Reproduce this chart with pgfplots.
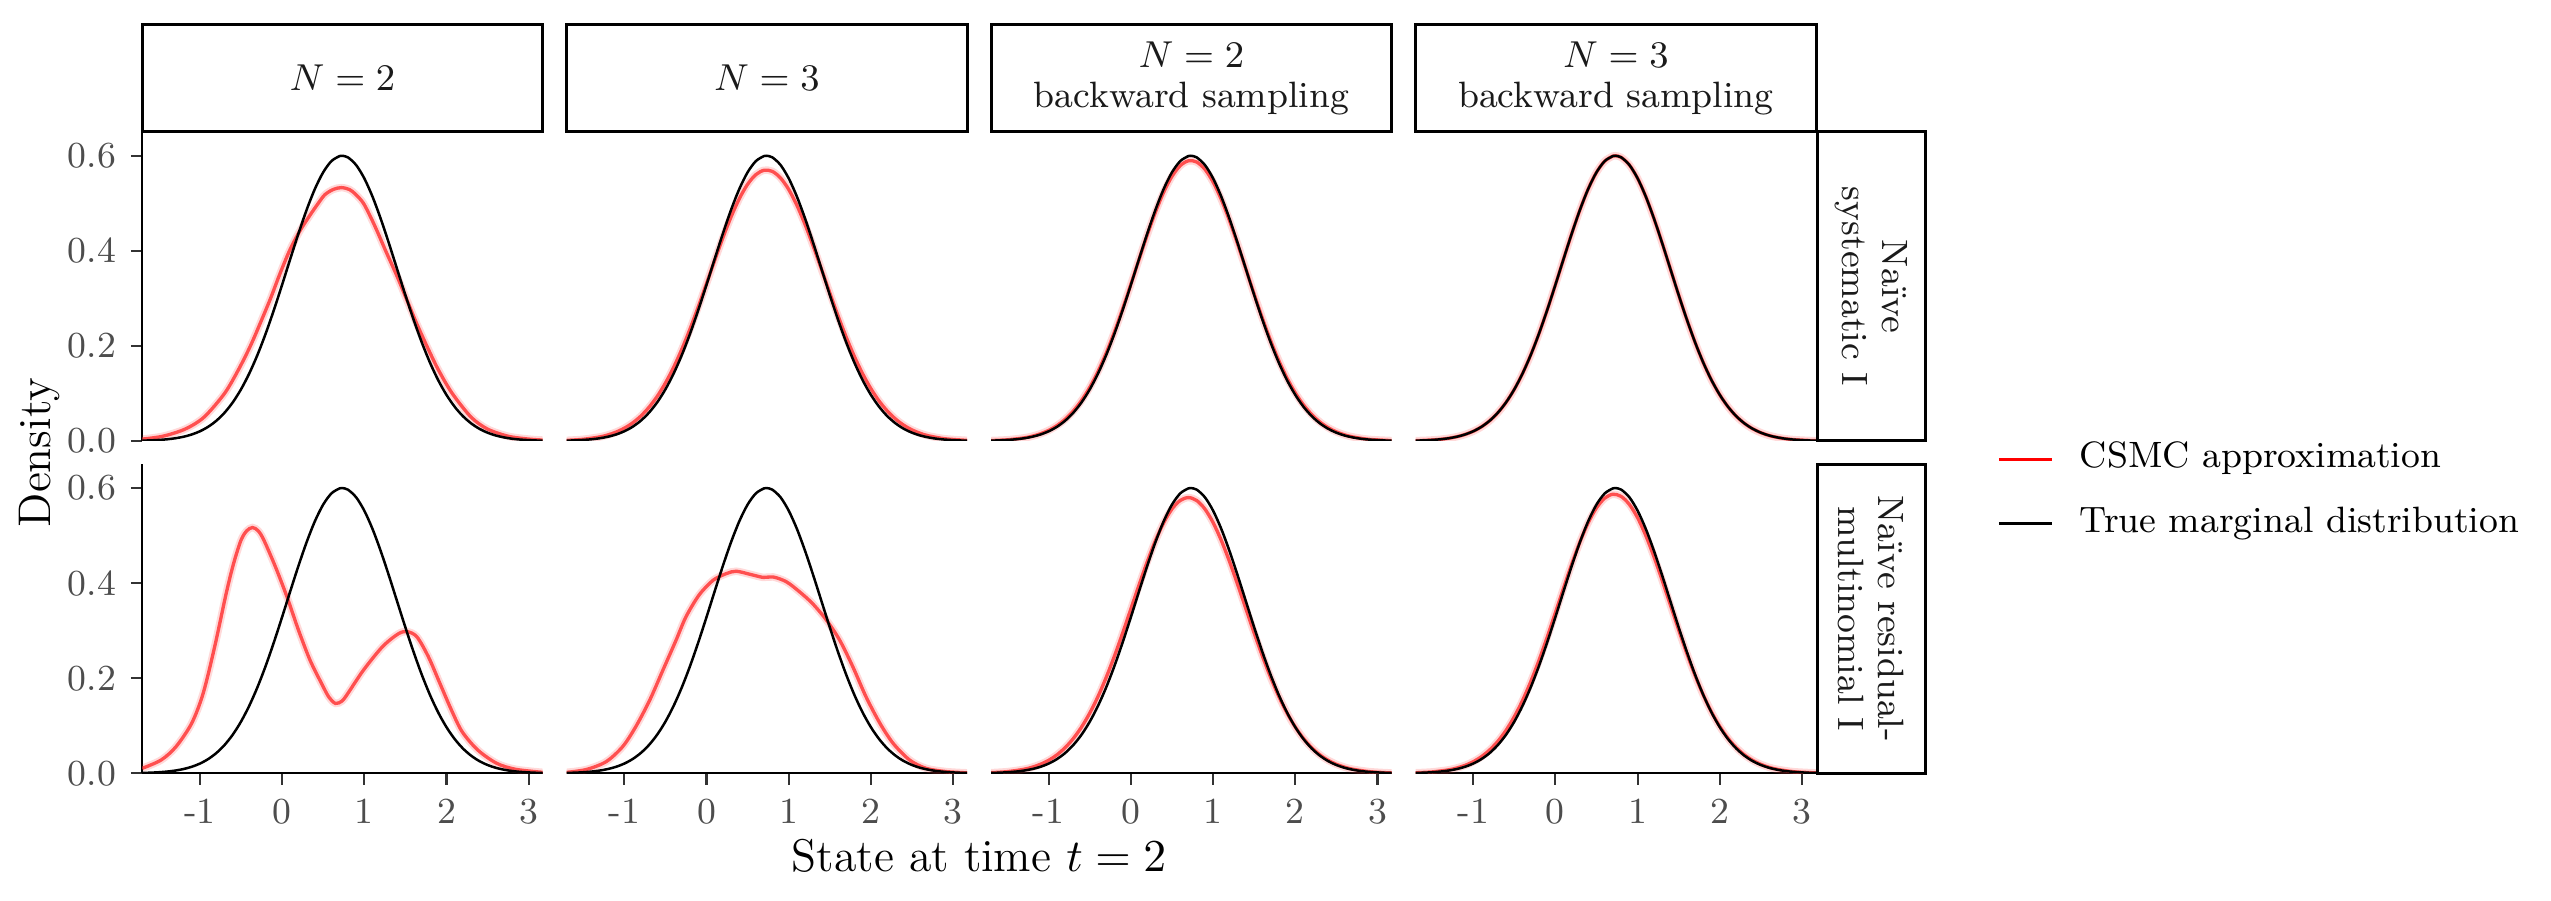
\documentclass[border=0pt]{standalone}
\usepackage{fontspec}
\usepackage{pgfplots}
\usepackage{pgfplotstable}
\pgfplotsset{compat=1.18}

\definecolor{csmc}{RGB}{255,64,64}
\definecolor{ticklab}{RGB}{77,77,77}
\definecolor{striptext}{RGB}{26,26,26}

% True marginal distribution (same in every panel)
\pgfplotstableread{
x y
-1.7 0.00076
-1.6 0.00129
-1.5 0.00217
-1.4 0.00355
-1.3 0.00569
-1.2 0.0089
-1.1 0.01361
-1.0 0.02035
-0.9 0.02976
-0.8 0.04252
-0.7 0.05944
-0.6 0.0812
-0.5 0.1085
-0.4 0.1417
-0.3 0.1808
-0.2 0.2256
-0.1 0.2753
0.0 0.3284
0.1 0.3831
0.2 0.4367
0.3 0.4868
0.4 0.5305
0.5 0.5652
0.6 0.5887
0.7 0.5994
0.73 0.6
0.8 0.5967
0.9 0.5807
1.0 0.5525
1.1 0.514
1.2 0.4674
1.3 0.4156
1.4 0.3612
1.5 0.3069
1.6 0.255
1.7 0.2071
1.8 0.1644
1.9 0.1276
2.0 0.0969
2.1 0.0719
2.2 0.0521
2.3 0.037
2.4 0.0256
2.5 0.0174
2.6 0.0115
2.7 0.0075
2.8 0.0047
2.9 0.0029
3.0 0.0018
3.1 0.001
3.17 0.0007
}\tblTrue

% CSMC, N=2, naive systematic
\pgfplotstableread{
x y
-1.70 0.004
-1.45 0.010
-1.18 0.025
-0.95 0.050
-0.70 0.100
-0.53 0.150
-0.385 0.200
-0.26 0.250
-0.14 0.300
-0.03 0.350
0.09 0.400
0.21 0.440
0.32 0.470
0.44 0.500
0.52 0.518
0.62 0.529
0.72 0.533
0.82 0.529
0.90 0.518
0.99 0.500
1.08 0.470
1.16 0.440
1.26 0.400
1.39 0.350
1.51 0.300
1.63 0.250
1.76 0.200
1.90 0.150
2.07 0.100
2.30 0.050
2.50 0.025
2.75 0.010
3.00 0.004
3.17 0.002
}\tblRA

% CSMC, N=3, naive systematic
\pgfplotstableread{
x y
-1.7 0.00137
-1.5 0.00356
-1.3 0.0085
-1.2 0.0127
-1.1 0.0187
-1.0 0.0269
-0.9 0.0378
-0.8 0.0522
-0.7 0.0707
-0.6 0.0937
-0.5 0.1217
-0.4 0.1548
-0.3 0.193
-0.2 0.2358
-0.1 0.2822
0.0 0.3309
0.1 0.3801
0.2 0.4279
0.3 0.472
0.4 0.51
0.5 0.54
0.6 0.5603
0.7 0.5695
0.8 0.5672
0.9 0.5534
1.0 0.5291
1.1 0.4957
1.2 0.4549
1.3 0.4091
1.4 0.3605
1.5 0.3112
1.6 0.2632
1.7 0.2181
1.8 0.1772
1.9 0.141
2.0 0.1099
2.1 0.0839
2.2 0.0628
2.3 0.0461
2.4 0.0331
2.5 0.0233
2.6 0.0161
2.7 0.0109
2.9 0.0047
3.17 0.0013
}\tblRB

% CSMC, N=2 backward, naive systematic
\pgfplotstableread{
x y
-1.7 0.00093
-1.5 0.00257
-1.3 0.00651
-1.2 0.01004
-1.1 0.01515
-1.0 0.02236
-0.9 0.0323
-0.8 0.0456
-0.7 0.0631
-0.6 0.0853
-0.5 0.1128
-0.4 0.146
-0.3 0.1849
-0.2 0.2292
-0.1 0.2778
0.0 0.3295
0.1 0.3823
0.2 0.434
0.3 0.482
0.4 0.5237
0.5 0.5568
0.6 0.5792
0.7 0.5894
0.8 0.5869
0.9 0.5717
1.0 0.5448
1.1 0.508
1.2 0.4634
1.3 0.4136
1.4 0.3611
1.5 0.3085
1.6 0.2579
1.7 0.2109
1.8 0.1687
1.9 0.132
2.0 0.1011
2.1 0.0758
2.2 0.0556
2.3 0.0398
2.4 0.028
2.5 0.0192
2.6 0.0129
2.7 0.0085
2.9 0.0034
3.17 0.0009
}\tblRC

% CSMC, N=2, naive residual-multinomial
\pgfplotstableread{
x y
-1.70 0.0105
-1.47 0.028
-1.29 0.056
-1.10 0.105
-0.96 0.168
-0.82 0.266
-0.68 0.378
-0.59 0.441
-0.50 0.490
-0.43 0.510
-0.36 0.517
-0.29 0.510
-0.22 0.490
-0.08 0.434
0.06 0.371
0.20 0.301
0.34 0.238
0.48 0.189
0.57 0.160
0.65 0.147
0.73 0.152
0.80 0.168
0.99 0.217
1.22 0.266
1.41 0.293
1.52 0.298
1.64 0.287
1.78 0.245
1.92 0.189
2.06 0.133
2.19 0.0875
2.38 0.049
2.61 0.021
2.84 0.0084
3.17 0.002
}\tblRE

% CSMC, N=3, naive residual-multinomial
\pgfplotstableread{
x y
-1.70 0.002
-1.46 0.008
-1.22 0.0245
-1.02 0.056
-0.86 0.098
-0.69 0.154
-0.53 0.217
-0.37 0.280
-0.25 0.329
-0.09 0.375
0.08 0.406
0.24 0.420
0.36 0.425
0.52 0.419
0.69 0.412
0.81 0.413
0.97 0.403
1.13 0.382
1.29 0.357
1.46 0.322
1.62 0.280
1.78 0.224
1.94 0.161
2.11 0.105
2.27 0.063
2.47 0.028
2.67 0.0105
2.92 0.0035
3.17 0.001
}\tblRF

% CSMC, N=2 backward, naive residual-multinomial
\pgfplotstableread{
x y
-1.7 0.0013
-1.5 0.0035
-1.3 0.0085
-1.2 0.0128
-1.1 0.0189
-1.0 0.0273
-0.9 0.0387
-0.8 0.0538
-0.7 0.0731
-0.6 0.0972
-0.5 0.1266
-0.4 0.1614
-0.3 0.2016
-0.2 0.2464
-0.1 0.2949
0.0 0.3456
0.1 0.3964
0.2 0.4453
0.3 0.4898
0.4 0.5274
0.5 0.556
0.6 0.5739
0.7 0.58
0.8 0.5739
0.9 0.556
1.0 0.5274
1.1 0.4898
1.2 0.4453
1.3 0.3964
1.4 0.3456
1.5 0.2949
1.6 0.2464
1.7 0.2016
1.8 0.1614
1.9 0.1266
2.0 0.0972
2.1 0.0731
2.2 0.0538
2.3 0.0387
2.4 0.0273
2.5 0.0189
2.6 0.0128
2.7 0.0085
2.9 0.0035
3.1 0.0013
3.17 0.0009
}\tblRG

% CSMC, N=3 backward, naive residual-multinomial
\pgfplotstableread{
x y
-1.7 0.0011
-1.5 0.0029
-1.3 0.0072
-1.2 0.0111
-1.1 0.0166
-1.0 0.0243
-0.9 0.0349
-0.8 0.049
-0.7 0.0672
-0.6 0.0903
-0.5 0.1188
-0.4 0.1529
-0.3 0.1925
-0.2 0.2372
-0.1 0.286
0.0 0.3376
0.1 0.3898
0.2 0.4405
0.3 0.4872
0.4 0.5273
0.5 0.5584
0.6 0.5787
0.7 0.587
0.8 0.5824
0.9 0.5656
1.0 0.5376
1.1 0.5
1.2 0.455
1.3 0.4053
1.4 0.3532
1.5 0.3013
1.6 0.2515
1.7 0.2054
1.8 0.1642
1.9 0.1284
2.0 0.0983
2.1 0.0736
2.2 0.0539
2.3 0.0387
2.4 0.0272
2.5 0.0187
2.6 0.0125
2.7 0.0083
2.9 0.0033
3.17 0.0009
}\tblRH

\pgfplotsset{
  panel/.style={
    scale only axis, width=96.1pt, height=74.16pt,
    xmin=-1.7, xmax=3.17, ymin=0, ymax=0.65,
    anchor=south west,
    axis line style={line width=0.5pt, black},
    tick style={line width=0.5pt, black!80},
    major tick length=2.75pt, tick align=outside,
    xtick={-1,0,1,2,3}, xticklabels={-1,0,1,2,3},
    ytick={0,0.2,0.4,0.6}, yticklabels={0.0,0.2,0.4,0.6},
    ticklabel style={font=\fontsize{8.8}{10}\selectfont, text=ticklab},
  },
  noX/.style={axis x line=none, xtick=\empty},
  noY/.style={axis y line=none, ytick=\empty},
  withX/.style={axis x line*=bottom},
  withY/.style={axis y line*=left},
  band/.style={csmc, line width=1.8pt, opacity=0.2, smooth, tension=0.5, forget plot},
  core/.style={csmc, line width=0.8pt, opacity=0.9, smooth, tension=0.5, forget plot},
  truth/.style={black, line width=0.6pt, smooth, tension=0.5, forget plot},
}

\newcommand{\panelcurves}[1]{%
  \addplot[band] table[x=x,y=y] {#1};
  \addplot[core] table[x=x,y=y] {#1};
  \addplot[truth] table[x=x,y=y] {\tblTrue};
}

\begin{document}
\begin{tikzpicture}
\useasboundingbox (0pt,0pt) rectangle (612.24pt,216.24pt);

% ---- row 1 ----
\begin{axis}[panel, withY, noX, at={(34.15pt,110.4pt)}]
\panelcurves{\tblRA}
\end{axis}
\begin{axis}[panel, noY, noX, at={(136.01pt,110.4pt)}]
\panelcurves{\tblRB}
\end{axis}
\begin{axis}[panel, noY, noX, at={(237.86pt,110.4pt)}]
\panelcurves{\tblRC}
\end{axis}
\begin{axis}[panel, noY, noX, at={(339.74pt,110.4pt)}]
\panelcurves{\tblTrue}
\end{axis}

% ---- row 2 ----
\begin{axis}[panel, withY, withX, at={(34.15pt,30.65pt)}]
\panelcurves{\tblRE}
\end{axis}
\begin{axis}[panel, noY, withX, at={(136.01pt,30.65pt)}]
\panelcurves{\tblRF}
\end{axis}
\begin{axis}[panel, noY, withX, at={(237.86pt,30.65pt)}]
\panelcurves{\tblRG}
\end{axis}
\begin{axis}[panel, noY, withX, at={(339.74pt,30.65pt)},
  legend cell align=left,
  legend image code/.code={\draw[#1] (0pt,0pt) -- (12.8pt,0pt);},
  legend style={draw=none, fill=none, at={(1.451,1.088)}, anchor=north west,
    font=\fontsize{8.8}{10}\selectfont, row sep=5.2pt, inner sep=0pt,
    nodes={inner sep=1pt, text height=6.2pt, text depth=2pt},
    /tikz/every odd column/.append style={column sep=5.3pt}}]
\addlegendimage{red, line width=0.7pt}
\addlegendentry{CSMC approximation}
\addlegendimage{black, line width=0.7pt}
\addlegendentry{True marginal distribution}
\panelcurves{\tblRH}
\end{axis}

% ---- column strips ----
\begin{scope}[line width=0.72pt]
\foreach \xx/\lab in {34.15/{$N=2$}, 136.01/{$N=3$}, 237.86/{$N=2$\\backward sampling}, 339.74/{$N=3$\\backward sampling}}{
  \draw[fill=white] (\xx pt,184.56pt) rectangle ++(96.1pt,25.85pt);
  \node[align=center, text=striptext, font=\fontsize{8.8}{9.6}\selectfont] at ({\xx pt+48.05pt},197.48pt) {\lab};
}
% ---- row strips ----
\draw[fill=white] (436.1pt,110.4pt) rectangle (462.0pt,184.56pt);
\node[rotate=-90, align=center, text=striptext, font=\fontsize{8.8}{9.6}\selectfont] at (449.05pt,147.48pt) {Naïve\\systematic I};
\draw[fill=white] (436.1pt,30.65pt) rectangle (462.0pt,104.81pt);
\node[rotate=-90, align=center, text=striptext, font=\fontsize{8.8}{9.6}\selectfont] at (449.05pt,67.73pt) {Naïve residual-\\multinomial I};
\end{scope}

% ---- axis titles ----
\node[rotate=90, font=\fontsize{11}{13}\selectfont] at (9.6pt,107.6pt) {Density};
\node[font=\fontsize{11}{13}\selectfont] at (235pt,10.8pt) {State at time $t=2$};
\end{tikzpicture}
\end{document}
